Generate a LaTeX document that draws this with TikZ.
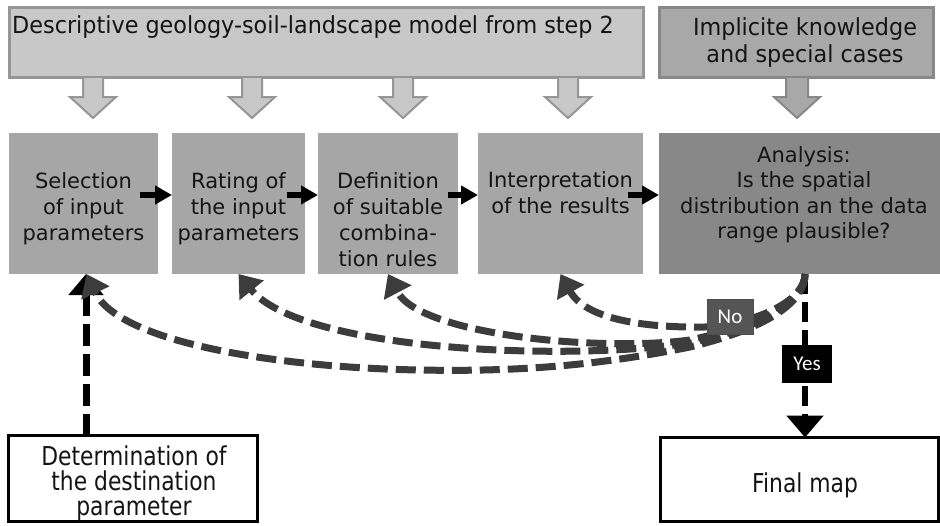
\documentclass[tikz,border=0pt]{standalone}
\usepackage{fontspec}
\setmainfont{DejaVu Sans}
\newfontfamily\topfont[FakeStretch=0.95]{DejaVu Sans}
\newfontfamily\condfont[FakeStretch=0.84]{DejaVu Sans}
\newfontfamily\lblfont{Carlito}
\usetikzlibrary{arrows.meta,calc}
\definecolor{topfill}{RGB}{200,200,200}
\definecolor{topline}{RGB}{150,150,150}
\definecolor{topfillb}{RGB}{168,168,168}
\definecolor{toplineb}{RGB}{136,136,136}
\definecolor{midfill}{RGB}{166,166,166}
\definecolor{anafill}{RGB}{136,136,136}
\definecolor{curvecol}{RGB}{60,60,60}
\definecolor{nofill}{RGB}{85,85,85}
\definecolor{txtcol}{RGB}{20,20,20}
\begin{document}
\begin{tikzpicture}[x=1pt,y=-1pt,
  box/.style={rectangle, inner sep=0pt, outer sep=0pt},
  topbox/.style={box, draw=topline, fill=topfill, line width=3pt},
  topboxb/.style={box, draw=toplineb, fill=topfillb, line width=3pt},
  midbox/.style={box, fill=midfill, minimum height=141pt},
  anabox/.style={box, fill=anafill, minimum height=141pt},
  whitebox/.style={box, draw=black, fill=white, line width=3pt},
  toptxt/.style={inner sep=0pt, text=txtcol, align=center, font=\topfont\fontsize{23.5}{27}\selectfont},
  midtxt/.style={inner sep=0pt, anchor=north, text=txtcol, align=center, font=\fontsize{21}{26}\selectfont},
  bottxt/.style={inner sep=0pt, anchor=north, text=txtcol, align=center, font=\condfont\fontsize{26}{25}\selectfont},
  smallarr/.style={draw=black, line width=6pt, -{Triangle[length=17pt,width=18pt]}},
  nocurve/.style={draw=curvecol, line width=7pt, dash pattern=on 20pt off 8pt, -{Triangle[length=21pt,width=30pt]}},
  blkdash/.style={draw=black, line width=7pt, dash pattern=on 22pt off 8pt, -{Triangle[length=21pt,width=34pt]}},
  yesdash/.style={draw=black, line width=6pt, dash pattern=on 20pt off 8pt, -{Triangle[length=22pt,width=36pt]}},
  nolbl/.style={box, fill=nofill, draw=black!70, line width=0.8pt, minimum width=46pt, minimum height=35pt, text=white, font=\lblfont\fontsize{21}{25}\selectfont},
  yeslbl/.style={box, fill=black, minimum width=50pt, minimum height=38pt, text=white, font=\lblfont\fontsize{21}{25}\selectfont},
  blockfill/.style={fill=#1},
  blockline/.style={draw=#1, line width=2pt, line join=miter}
]
\useasboundingbox (0,0) rectangle (940,525);
\fill[white] (0,0) rectangle (940,525);

% top boxes
\node[topbox, minimum width=634pt, minimum height=70pt] (T1) at (326.5,42.5) {};
\node[topboxb, minimum width=274pt, minimum height=70pt] (T2) at (796.5,42.5) {};
\node[toptxt, anchor=north west] (tT1) at (12,15.1) {Descriptive geology-soil-landscape model from step 2};
\node[toptxt, anchor=north] (tT2) at (805,17) {Implicite knowledge\\and special cases};

% block arrows
\foreach \x in {93,252,403,568} {
  \fill[topfill] (\x-10,78) -- (\x-10,97) -- (\x-23,97) -- (\x,118) -- (\x+23,97) -- (\x+10,97) -- (\x+10,78) -- cycle;
  \draw[blockline=topline] (\x-10,78) -- (\x-10,97) -- (\x-23,97) -- (\x,118) -- (\x+23,97) -- (\x+10,97) -- (\x+10,78);
}
\foreach \x in {797} {
  \fill[topfillb] (\x-11,78) -- (\x-11,97) -- (\x-23,97) -- (\x,118) -- (\x+23,97) -- (\x+11,97) -- (\x+11,78) -- cycle;
  \draw[blockline=toplineb] (\x-11,78) -- (\x-11,97) -- (\x-23,97) -- (\x,118) -- (\x+23,97) -- (\x+11,97) -- (\x+11,78);
}

% middle boxes
\node[midbox, minimum width=149pt] (A) at (83.5,203.5) {};
\node[midbox, minimum width=133pt] (B) at (238.5,203.5) {};
\node[midbox, minimum width=140pt] (C) at (388,203.5) {};
\node[midbox, minimum width=165pt] (D) at (560.5,203.5) {};
\node[anabox, minimum width=281pt] (E) at (799.5,203.5) {};

\node[midtxt] (tA) at (83.5,172) {Selection\\of input\\parameters};
\node[midtxt] (tB) at (238.5,172) {Rating of\\the input\\parameters};
\node[midtxt] (tC) at (388,172) {Definition\\of suitable\\combina-\\tion rules};
\node[midtxt] (tD) at (560.5,171) {Interpretation\\of the results};
\node[midtxt, font=\fontsize{21}{25.5}\selectfont] (tE) at (804,146) {Analysis:\\Is the spatial\\distribution an the data\\range plausible?};

% small arrows
\draw[smallarr] ([xshift=-18pt,yshift=8.5pt]A.east) -- ([yshift=8.5pt]B.west);
\draw[smallarr] ([xshift=-18pt,yshift=8.5pt]B.east) -- ([yshift=8.5pt]C.west);
\draw[smallarr] ([xshift=-10pt,yshift=8.5pt]C.east) -- ([yshift=8.5pt]D.west);
\draw[smallarr] ([xshift=-15pt,yshift=8.5pt]D.east) -- ([yshift=8.5pt]E.west);

% bottom boxes
\node[whitebox, minimum width=249pt, minimum height=86pt] (Det) at (133,478.5) {};
\node[whitebox, minimum width=278pt, minimum height=84pt] (F) at (799.5,479.5) {};
\node[bottxt] (tDet) at (134,446) {Determination of\\the destination\\parameter};
\node[bottxt] (tF) at (805,472.5) {Final map};

% connectors
\coordinate (S) at ([xshift=5.5pt]E.south);
\coordinate (At) at ([xshift=2.5pt]A.south);
\coordinate (Ft) at ([xshift=5.5pt]F.north);
\draw[blkdash] (Det.north -| At) -- (At);
\draw[yesdash] (S) -- (Ft);

\draw[nocurve] (S) .. controls (805,298) and (765,322) .. (705,327) .. controls (640,328) and (585,318) .. (D.south);
\draw[nocurve] (S) .. controls (805,300) and (766,324) .. (690,340) .. controls (600,352) and (420,335) .. (C.south);
\draw[nocurve] (S) .. controls (805,301) and (767,326) .. (690,343) .. controls (560,362) and (300,350) .. (B.south);
\draw[nocurve] (S) .. controls (805,302) and (768,328) .. (690,347) .. controls (600,365) and (520,372) .. (420,370) .. controls (290,368) and (120,345) .. ([xshift=3pt]A.south);

\node[nolbl] (no) at (730,316.5) {No};
\node[yeslbl] (yes) at (807,364) {Yes};
\end{tikzpicture}
\end{document}
